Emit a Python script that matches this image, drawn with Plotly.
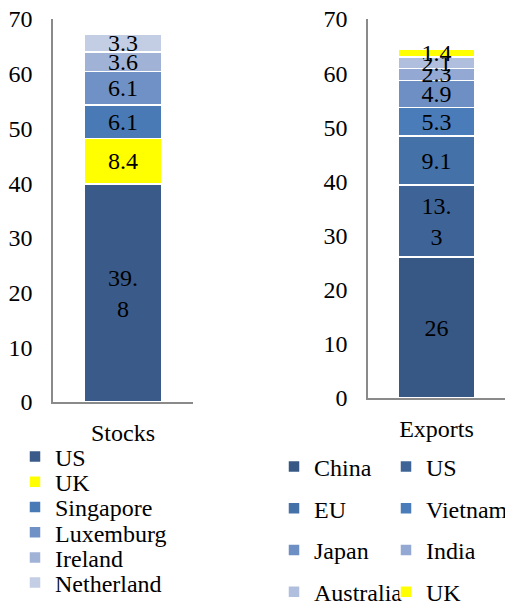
import plotly.graph_objects as go

# Stocks (left chart)
stock_names = ["US", "UK", "Singapore", "Luxemburg", "Ireland", "Netherland"]
stock_values = [39.8, 8.4, 6.1, 6.1, 3.6, 3.3]
stock_colors = ["#3A5B89", "#FFFF00", "#4A7AB6", "#7091C5", "#A0B3D7", "#C3CEE5"]

# Exports (right chart)
export_names = ["China", "US", "EU", "Vietnam", "Japan", "India", "Australia", "UK"]
export_values = [26, 13.3, 9.1, 5.3, 4.9, 2.3, 2.1, 1.4]
export_colors = ["#375784", "#3E6497", "#4471A8", "#4A7CB9", "#6D8FC4", "#93A8D2", "#B0BFDD", "#FFFF00"]

# positions below are page pixels, shifted by this offset
OFF = 8
W, H = 513, 602
FONT = "Liberation Serif, Times New Roman, serif"
FS = 24


def fx(px):
    return (px - OFF) / W


def fy(py):
    return 1 - (py - OFF) / H


def label(v):
    s = f"{v:g}"
    # narrow bars wrap long labels after the decimal point
    if len(s) > 3:
        s = s.replace(".", ".<br>")
    return s


legend_common = dict(font=dict(family=FONT, size=FS, color="black"), bgcolor="rgba(0,0,0,0)",
                     xanchor="left", yanchor="middle", itemclick=False, itemdoubleclick=False,
                     borderwidth=0)
legends = {}
fig = go.Figure()

n = 0
for i, (name, val, col) in enumerate(zip(stock_names, stock_values, stock_colors)):
    n += 1
    key = "legend" if n == 1 else f"legend{n}"
    # one legend per entry so rows sit where the reference has them
    legends[key] = dict(x=fx(15), y=fy(457 + 25.2 * i), **legend_common)
    fig.add_trace(go.Bar(
        x=["Stocks"], y=[val], name=name, marker=dict(color=col, line=dict(color="white", width=1.5)),
        text=[label(val)], textposition="inside", insidetextanchor="middle", constraintext="none",
        textfont=dict(family=FONT, size=FS, color="black"),
        xaxis="x", yaxis="y", legend=key, showlegend=True,
    ))

for i, (name, val, col) in enumerate(zip(export_names, export_values, export_colors)):
    n += 1
    key = f"legend{n}"
    lx = 274 if i % 2 == 0 else 386
    legends[key] = dict(x=fx(lx), y=fy(467 + 41.7 * (i // 2)), **legend_common)
    fig.add_trace(go.Bar(
        x=["Exports"], y=[val], name=name, marker=dict(color=col, line=dict(color="white", width=1.5)),
        text=[label(val)], textposition="inside", insidetextanchor="middle", constraintext="none",
        textfont=dict(family=FONT, size=FS, color="black"),
        xaxis="x2", yaxis="y2", legend=key, showlegend=True,
    ))

axis_common = dict(showgrid=False, zeroline=False, showline=True, linecolor="#8A8A8A", linewidth=1.5,
                   ticks="", automargin=False, ticklabeloverflow="allow",
                   tickfont=dict(family=FONT, size=FS, color="black"))

fig.update_layout(
    width=W, height=H,
    margin=dict(l=0, r=0, t=0, b=0, autoexpand=False),
    showlegend=True,
    barmode="stack", bargap=0.44,
    plot_bgcolor="white", paper_bgcolor="white",
    font=dict(family=FONT, color="black"),
    xaxis=dict(domain=[fx(53), fx(193)], anchor="y", ticklabelstandoff=8, **axis_common),
    yaxis=dict(domain=[fy(402), fy(19)], range=[0, 70], dtick=10, anchor="x",
               ticklabelstandoff=14, **axis_common),
    xaxis2=dict(domain=[fx(368), fx(505)], anchor="y2", ticklabelstandoff=8, **axis_common),
    yaxis2=dict(domain=[fy(398), fy(19)], range=[0, 70], dtick=10, anchor="x2",
                ticklabelstandoff=14, **axis_common),
    **legends,
)

fig.write_html("out.html")
